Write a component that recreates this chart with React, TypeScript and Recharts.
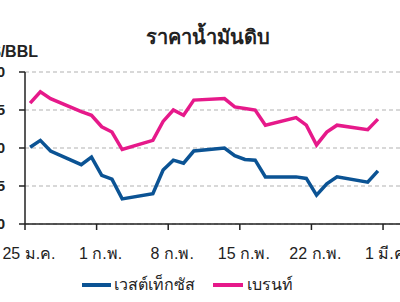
import React from 'react';
import { LineChart, Line, XAxis, YAxis, CartesianGrid } from 'recharts';

// day offsets from 25 Jan (plotted mid-day)
const days = [0.5, 1.5, 2.5, 5.5, 6.5, 7.5, 8.5, 9.5, 12.5, 13.5, 14.5, 15.5, 16.5, 19.5, 20.5, 21.5, 22.5, 23.5, 26.5, 27.5, 28.5, 29.5, 30.5, 33.5, 34.5];
const wti = [80.1, 81.0, 79.6, 77.8, 78.8, 76.4, 75.9, 73.3, 74.0, 77.1, 78.4, 78.0, 79.6, 80.0, 79.0, 78.5, 78.4, 76.2, 76.2, 76.0, 73.8, 75.3, 76.2, 75.5, 77.0];
const brent = [85.9, 87.4, 86.5, 84.8, 84.3, 82.8, 82.1, 79.8, 81.0, 83.5, 85.0, 84.3, 86.3, 86.5, 85.4, 85.2, 85.0, 83.0, 84.0, 83.0, 80.4, 82.1, 83.0, 82.4, 83.8];
const xTicks = [0, 7, 14, 21, 28, 35];
const xTickLabels = ['25 ม.ค.', '1 ก.พ.', '8 ก.พ.', '15 ก.พ.', '22 ก.พ.', '1 มี.ค.'];
const yTicks = [70, 75, 80, 85, 90];
const seriesNames = ['เวสต์เท็กซัส', 'เบรนท์'];
const title = 'ราคาน้ำมันดิบ';
const unit = '$/BBL';

const BLUE = '#0b5394';
const PINK = '#e6198a';
const FONT = '"Liberation Sans", "Noto Sans", "DejaVu Sans", sans-serif';

const data = days.map((d, i) => ({ d, wti: wti[i], brent: brent[i] }));

const LegendContent = () => (
  <div style={{ display: 'flex', alignItems: 'center', fontFamily: FONT, fontSize: 16, color: '#222', fontWeight: 500, lineHeight: '20px' }}>
    <span style={{ display: 'inline-block', width: 29, height: 4, background: BLUE, marginRight: 3 }} />
    <span style={{ marginRight: 18 }}>{seriesNames[0]}</span>
    <span style={{ display: 'inline-block', width: 30, height: 4, background: PINK, marginRight: 4 }} />
    <span>{seriesNames[1]}</span>
  </div>
);

export default function App() {
  return (
    <div style={{ position: 'fixed', left: 0, top: 0, width: 400, height: 302, overflow: 'hidden', background: '#fff' }}>
      <div style={{ position: 'absolute', left: 0, width: 416, top: 25, textAlign: 'center', fontFamily: FONT, fontWeight: 700, fontSize: 20, color: '#222', lineHeight: '24px' }}>
        {title}
      </div>
      <div style={{ position: 'absolute', right: 362, top: 43, fontFamily: FONT, fontWeight: 700, fontSize: 16, color: '#222', lineHeight: '18px', whiteSpace: 'nowrap' }}>
        {unit}
      </div>
      <div style={{ position: 'absolute', left: -12, top: 0 }}>
        <LineChart width={430} height={302} data={data} margin={{ top: 72, right: 14.5, bottom: 48, left: 7 }}>
          <CartesianGrid vertical={false} stroke="#cccccc" strokeDasharray="4 3" strokeWidth={1.5} />
          <XAxis
            dataKey="d"
            type="number"
            domain={[0, 37]}
            ticks={xTicks}
            height={30}
            tickFormatter={(v: number) => xTickLabels[xTicks.indexOf(v)] ?? ''}
            axisLine={{ stroke: '#222', strokeWidth: 1.5 }}
            tickLine={{ stroke: '#222', strokeWidth: 1.5 }}
            tickSize={6}
            tickMargin={18}
            interval={0}
            tick={{ fill: '#222', fontSize: 16, fontFamily: FONT, fontWeight: 500, dx: 4 }}
          />
          <YAxis
            type="number"
            domain={[70, 90]}
            ticks={yTicks}
            width={30}
            axisLine={{ stroke: '#222', strokeWidth: 1.5 }}
            tickLine={{ stroke: '#222', strokeWidth: 1.5 }}
            tickSize={6}
            tickMargin={14}
            tick={{ fill: '#222', fontSize: 15, fontFamily: FONT, fontWeight: 700 }}
          />
          <Line dataKey="wti" name={seriesNames[0]} stroke={BLUE} strokeWidth={3.5} dot={false} isAnimationActive={false} strokeLinejoin="miter" />
          <Line dataKey="brent" name={seriesNames[1]} stroke={PINK} strokeWidth={3.5} dot={false} isAnimationActive={false} strokeLinejoin="miter" />
        </LineChart>
      </div>
      <div style={{ position: 'absolute', left: 82, top: 275 }}>
        <LegendContent />
      </div>
    </div>
  );
}
